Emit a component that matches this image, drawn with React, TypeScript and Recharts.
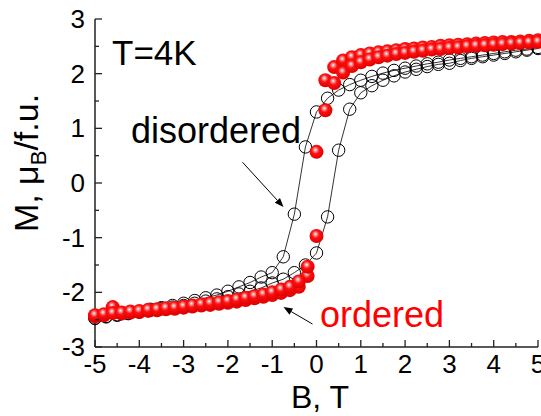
import { ScatterChart, Scatter, XAxis, YAxis, ReferenceLine } from 'recharts'

// disordered sample: open circles, step 0.25 T
const disB = [
  -5, -4.75, -4.5, -4.25, -4, -3.75, -3.5, -3.25, -3, -2.75, -2.5, -2.25, -2, -1.75, -1.5, -1.25, -1, -0.75,
  -0.5, -0.25, 0, 0.25, 0.5, 0.75, 1, 1.25, 1.5, 1.75, 2, 2.25, 2.5, 2.75, 3, 3.25, 3.5, 3.75, 4, 4.25, 4.5,
  4.75, 5,
]
const disDown = [
  -2.47, -2.44, -2.41, -2.38, -2.35, -2.31, -2.28, -2.24, -2.2, -2.15, -2.1, -2.05, -1.98, -1.9, -1.82, -1.72,
  -1.64, -1.35, -0.57, 0.66, 1.3, 1.55, 1.7, 1.8, 1.88, 1.95, 2.01, 2.06, 2.1, 2.14, 2.18, 2.21, 2.25, 2.28,
  2.31, 2.34, 2.37, 2.4, 2.43, 2.45, 2.48,
]
const disUp = [
  -2.48, -2.45, -2.42, -2.39, -2.36, -2.33, -2.3, -2.27, -2.24, -2.2, -2.16, -2.12, -2.08, -2.03, -1.98, -1.92,
  -1.83, -1.76, -1.64, -1.5, -1.28, -0.62, 0.6, 1.35, 1.65, 1.78, 1.88, 1.96, 2.03, 2.08, 2.13, 2.17, 2.19,
  2.24, 2.28, 2.31, 2.34, 2.37, 2.4, 2.43, 2.46,
]

// ordered sample: red balls, step 0.2 T
const ordB = [
  -5, -4.8, -4.6, -4.4, -4.2, -4, -3.8, -3.6, -3.4, -3.2, -3, -2.8, -2.6, -2.4, -2.2, -2, -1.8, -1.6, -1.4,
  -1.2, -1, -0.8, -0.6, -0.4, -0.2, 0, 0.2, 0.4, 0.6, 0.8, 1, 1.2, 1.4, 1.6, 1.8, 2, 2.2, 2.4, 2.6, 2.8, 3,
  3.2, 3.4, 3.6, 3.8, 4, 4.2, 4.4, 4.6, 4.8, 5,
]
const ordDown = [
  -2.44, -2.42, -2.27, -2.39, -2.37, -2.36, -2.34, -2.33, -2.31, -2.3, -2.28, -2.26, -2.24, -2.23, -2.21,
  -2.19, -2.17, -2.14, -2.11, -2.08, -2.05, -2.01, -1.96, -1.9, -1.7, 0.57, 1.88, 2.12, 2.24, 2.3, 2.34, 2.37,
  2.39, 2.41, 2.43, 2.45, 2.46, 2.48, 2.49, 2.51, 2.52, 2.53, 2.54, 2.55, 2.56, 2.57, 2.58, 2.58, 2.59, 2.6,
  2.61,
]
const ordUp = [
  -2.42, -2.4, -2.38, -2.37, -2.35, -2.34, -2.32, -2.31, -2.29, -2.28, -2.26, -2.24, -2.22, -2.2, -2.18,
  -2.16, -2.13, -2.1, -2.07, -2.04, -2.0, -1.95, -1.9, -1.8, -1.53, -0.97, 1.33, 1.83, 2.02, 2.14, 2.21,
  2.26, 2.3, 2.33, 2.36, 2.38, 2.4, 2.42, 2.44, 2.45, 2.47, 2.48, 2.5, 2.51, 2.52, 2.53, 2.54, 2.55, 2.56,
  2.57, 2.58,
]

const xTicks = [-5, -4.5, -4, -3.5, -3, -2.5, -2, -1.5, -1, -0.5, 0, 0.5, 1, 1.5, 2, 2.5, 3, 3.5, 4, 4.5, 5]
const yTicks = [-3, -2.5, -2, -1.5, -1, -0.5, 0, 0.5, 1, 1.5, 2, 2.5, 3]

const FONT = '"Liberation Sans", Arial, sans-serif'

const pts = (xs: number[], ys: number[]) => xs.map((b, i) => ({ b, m: ys[i] }))

const isMajor = (v: number) => Number.isInteger(v)

function BottomTick(p: any) {
  const v = p.payload.value
  return (
    <g>
      <line x1={p.x} y1={p.y} x2={p.x} y2={p.y - (isMajor(v) ? 7 : 4)} stroke="#222" strokeWidth={1.3} />
      {isMajor(v) && (
        <text x={p.x} y={p.y + 26} textAnchor="middle" fontSize={26} fontFamily={FONT} fill="#000">
          {String(v)}
        </text>
      )}
    </g>
  )
}

function TopTick(p: any) {
  const v = p.payload.value
  return <line x1={p.x} y1={p.y} x2={p.x} y2={p.y + (isMajor(v) ? 7 : 4)} stroke="#222" strokeWidth={1.3} />
}

function LeftTick(p: any) {
  const v = p.payload.value
  return (
    <g>
      <line x1={p.x} y1={p.y} x2={p.x + (isMajor(v) ? 7 : 4)} y2={p.y} stroke="#222" strokeWidth={1.3} />
      {isMajor(v) && (
        <text x={p.x - 10} y={p.y + 9} textAnchor="end" fontSize={26} fontFamily={FONT} fill="#000">
          {String(v)}
        </text>
      )}
    </g>
  )
}

function RightTick(p: any) {
  const v = p.payload.value
  return <line x1={p.x} y1={p.y} x2={p.x - (isMajor(v) ? 7 : 4)} y2={p.y} stroke="#222" strokeWidth={1.3} />
}

const OpenCircle = (p: any) => <circle cx={p.cx} cy={p.cy} r={6.2} fill="none" stroke="#000" strokeWidth={1} />
const Ball = (p: any) => <circle cx={p.cx} cy={p.cy} r={7} fill="url(#ballGrad)" />

function Arrow(p: any) {
  const { x1, y1, x2, y2 } = p
  const a = Math.atan2(y2 - y1, x2 - x1)
  const L = 9
  const w = 3.5
  const bx = x2 - L * Math.cos(a)
  const by = y2 - L * Math.sin(a)
  const nx = -Math.sin(a) * w
  const ny = Math.cos(a) * w
  return (
    <g>
      <line x1={x1} y1={y1} x2={bx} y2={by} stroke="#000" strokeWidth={1} />
      <polygon points={`${x2},${y2} ${bx + nx},${by + ny} ${bx - nx},${by - ny}`} fill="#000" />
    </g>
  )
}

export default function App() {
  return (
    <div style={{ position: 'absolute', left: 0, top: 0, width: 541, height: 416, background: '#fff' }}>
      <svg width={0} height={0} style={{ position: 'absolute' }}>
        <defs>
          <radialGradient id="ballGrad" cx="0.45" cy="0.4" r="0.6" fx="0.42" fy="0.35">
            <stop offset="0" stopColor="#ffffff" />
            <stop offset="0.2" stopColor="#ff8a8a" />
            <stop offset="0.45" stopColor="#ff1010" />
            <stop offset="1" stopColor="#dc0000" />
          </radialGradient>
        </defs>
      </svg>
      <ScatterChart width={541} height={416} margin={{ top: 19, right: 3, bottom: 0, left: 0 }}>
        <XAxis
          dataKey="b"
          type="number"
          domain={[-5, 5]}
          ticks={xTicks}
          interval={0}
          height={69}
          tickSize={0}
          tickMargin={0}
          tickLine={false}
          axisLine={{ stroke: '#222', strokeWidth: 1.5 }}
          tick={<BottomTick />}
        />
        <XAxis
          xAxisId="top"
          orientation="top"
          type="number"
          domain={[-5, 5]}
          ticks={xTicks}
          interval={0}
          height={0}
          tickSize={0}
          tickMargin={0}
          tickLine={false}
          axisLine={{ stroke: '#222', strokeWidth: 1.5 }}
          tick={<TopTick />}
        />
        <YAxis
          dataKey="m"
          type="number"
          domain={[-3, 3]}
          ticks={yTicks}
          interval={0}
          width={95}
          tickSize={0}
          tickMargin={0}
          tickLine={false}
          axisLine={{ stroke: '#222', strokeWidth: 1.5 }}
          tick={<LeftTick />}
        />
        <YAxis
          yAxisId="right"
          orientation="right"
          type="number"
          domain={[-3, 3]}
          ticks={yTicks}
          interval={0}
          width={0}
          tickSize={0}
          tickMargin={0}
          tickLine={false}
          axisLine={{ stroke: '#222', strokeWidth: 1.5 }}
          tick={<RightTick />}
        />
        <Scatter
          name="disordered down"
          data={pts(disB, disDown)}
          line={{ stroke: '#000', strokeWidth: 0.8 }}
          lineType="joint"
          shape={OpenCircle}
          isAnimationActive={false}
        />
        <Scatter
          name="disordered up"
          data={pts(disB, disUp)}
          line={{ stroke: '#000', strokeWidth: 0.8 }}
          lineType="joint"
          shape={OpenCircle}
          isAnimationActive={false}
        />
        <Scatter name="ordered down" data={pts(ordB, ordDown)} shape={Ball} isAnimationActive={false} />
        <Scatter name="ordered up" data={pts(ordB, ordUp)} shape={Ball} isAnimationActive={false} />
        <ReferenceLine
          segment={[
            { x: -1.67, y: 0.38 },
            { x: -0.745, y: -0.44 },
          ]}
          shape={Arrow}
        />
        <ReferenceLine
          segment={[
            { x: -0.09, y: -2.58 },
            { x: -0.745, y: -2.27 },
          ]}
          shape={Arrow}
        />
      </ScatterChart>
      <svg
        width={541}
        height={416}
        style={{ position: 'absolute', left: 0, top: 0, pointerEvents: 'none' }}
        fontFamily={FONT}
      >
        <text x={112} y={65} fontSize={35} fill="#000">
          T=4K
        </text>
        <text x={131} y={143} fontSize={36} fill="#000">
          disordered
        </text>
        <text x={320} y={327} fontSize={36} fill="#ff0000">
          ordered
        </text>
        <text x={320} y={408} fontSize={32} textAnchor="middle" fill="#000">
          B, T
        </text>
        <text transform="rotate(-90)" x={-163} y={38} fontSize={34} textAnchor="middle" fill="#000">
          M, μ
          <tspan fontSize={22} dy={8}>
            B
          </tspan>
          <tspan dy={-8}>/f.u.</tspan>
        </text>
      </svg>
    </div>
  )
}
